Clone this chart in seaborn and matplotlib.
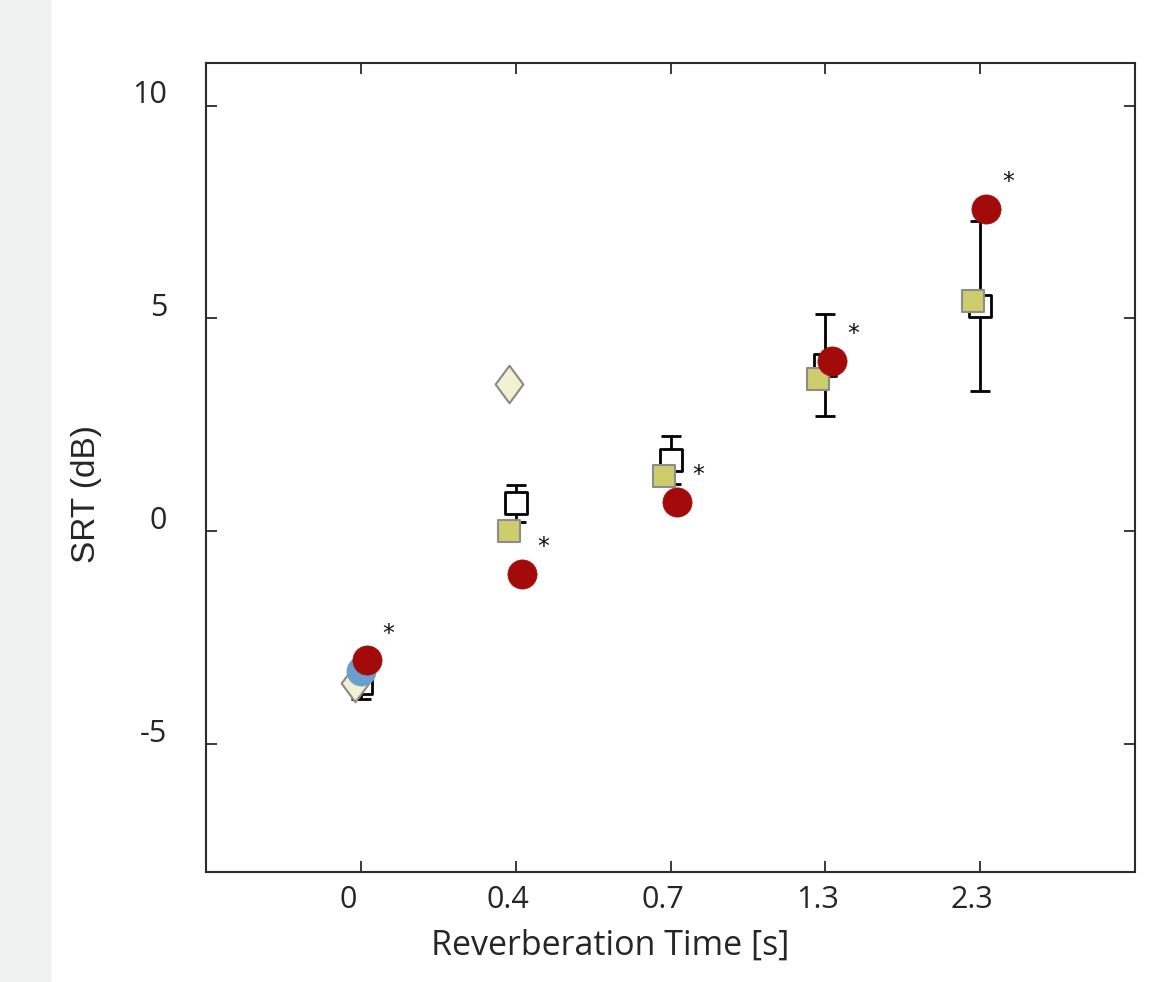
import numpy as np
import pandas as pd
import matplotlib
matplotlib.use("Agg")
import matplotlib.pyplot as plt
import matplotlib.transforms as mtrans
from matplotlib.patches import Rectangle
from matplotlib.path import Path
import seaborn as sns

# reverberation conditions (categorical positions 1..5)
rt_labels = ["0", "0.4", "0.7", "1.3", "2.3"]
rt_pos = [1, 2, 3, 4, 5]

# measured SRT (open squares) with error bars
meas_srt = [-3.55, 0.66, 1.67, 3.90, 5.30]
meas_err = [0.39, 0.44, 0.56, 1.20, 2.00]

# model predictions
yellow_pos = [2, 3, 4, 5]
yellow_srt = [0.0, 1.29, 3.57, 5.42]

red_srt = [-3.03, -0.99, 0.70, 4.01, 7.58]

diamond_pos = [1, 2]
diamond_srt = [-3.55, 3.47]

blue_pos = [1]
blue_srt = [-3.29]

sns.set_theme(style="white")
plt.rcParams['font.family'] = ['Open Sans', 'DejaVu Sans']

fig = plt.figure(figsize=(11.59, 9.82), dpi=100)
fig.patches.append(Rectangle((0, 0), 50 / 1159, 1, transform=fig.transFigure,
                             color="#eff0f0", zorder=0))
ax = fig.add_axes([206 / 1159, 1 - 872 / 982, 929 / 1159, 809 / 982])

# open squares + error bars
ax.errorbar(rt_pos, meas_srt, yerr=meas_err, fmt="none", ecolor="black",
            elinewidth=2.0, capsize=7.5, capthick=2.0, zorder=1)
sns.scatterplot(x=rt_pos, y=meas_srt, marker="s", s=16.5 ** 2, color="white",
                edgecolor="black", linewidth=2.0, ax=ax, zorder=2)

# yellow squares
sns.scatterplot(x=np.array(yellow_pos) - 0.045, y=yellow_srt, marker="s",
                s=16.5 ** 2, color="#cdcd6c", edgecolor="#8c8c8c",
                linewidth=1.5, ax=ax, zorder=3)

# diamonds
diamond = Path([(-0.74, 0), (0, 1), (0.74, 0), (0, -1), (-0.74, 0)],
               [Path.MOVETO, Path.LINETO, Path.LINETO, Path.LINETO, Path.CLOSEPOLY])
sns.scatterplot(x=np.array(diamond_pos) - 0.04, y=diamond_srt, marker=diamond,
                s=27 ** 2, color="#f1f1d6", edgecolor="#8a8a80",
                linewidth=1.5, ax=ax, zorder=4)

# blue circle
sns.scatterplot(x=blue_pos, y=blue_srt, marker="o", s=21 ** 2,
                color="#6a9fcc", edgecolor="#6a9fcc", linewidth=0.5,
                ax=ax, zorder=5)

# red circles
red_x = np.array(rt_pos) + 0.04
sns.scatterplot(x=red_x, y=red_srt, marker="o", s=21 ** 2,
                color="#a30b0b", edgecolor="#a30b0b", linewidth=0.5,
                ax=ax, zorder=6)
for xx, yy in zip(red_x, red_srt):
    ax.text(xx + 0.14, yy + 0.45, "*", ha="center", va="baseline",
            fontsize=17, color="#111111", family="DejaVu Sans", zorder=7)

ax.set_xlim(0, 6)
ax.set_ylim(-8, 11)
ax.set_xticks(rt_pos)
ax.set_xticklabels(rt_labels)
ax.set_yticks([-5, 0, 5, 10])
ax.set_yticklabels(["-5", "0", "5", "10"])

for sp in ax.spines.values():
    sp.set_visible(True)
    sp.set_color("#2b2b2b")
    sp.set_linewidth(1.5)
ax.tick_params(direction="in", length=8, width=1.3, color="#2b2b2b",
               bottom=True, left=True, top=True, right=True,
               labelsize=22, labelcolor="#262626")
ax.tick_params(axis="y", pad=28)
ax.tick_params(axis="x", pad=9)

# shift tick labels like the original export
for lab in ax.get_xticklabels():
    dx = -13 if lab.get_text() == "0" else -8
    lab.set_transform(lab.get_transform() +
                      mtrans.ScaledTranslation(dx / 100, 0, fig.dpi_scale_trans))
for lab in ax.get_yticklabels():
    lab.set_transform(lab.get_transform() +
                      mtrans.ScaledTranslation(0, 14 / 100, fig.dpi_scale_trans))

ax.set_xlabel("Reverberation Time [s]", fontsize=24.5, color="#262626")
ax.xaxis.set_label_coords((610 - 206) / 929, -(929 - 872) / 809)
ax.set_ylabel("SRT (dB)", fontsize=24, color="#262626", family="Liberation Sans")
ax.yaxis.set_label_coords((102 - 206) / 929, (872 - 494) / 809)

fig.savefig("out.png", dpi=100)
